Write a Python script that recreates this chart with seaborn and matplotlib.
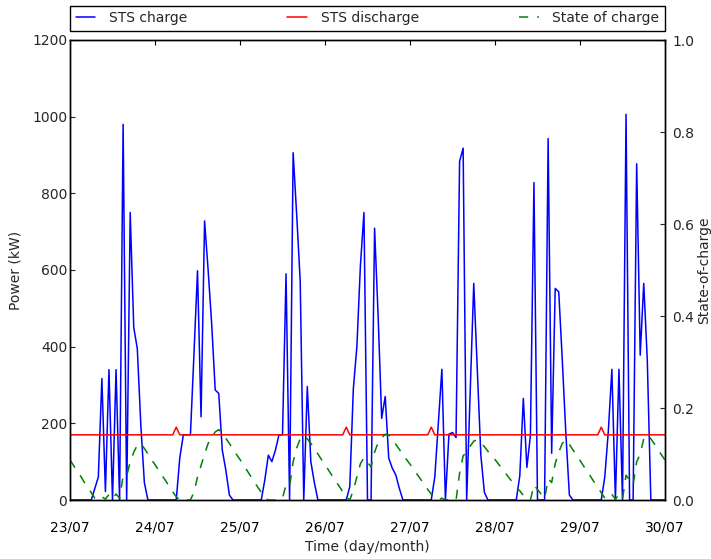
import pandas as pd
import matplotlib
matplotlib.use('Agg')
import matplotlib.pyplot as plt
import matplotlib.dates as mdates
import seaborn as sns

# hourly values, 23/07 00:00 .. 30/07 00:00
charge_kw = [
    0, 0, 0, 0, 0, 0, 0, 30, 60, 317, 22, 340, 0, 340, 0, 980, 0, 750, 450, 395, 195, 45, 0, 0,
    0, 0, 0, 0, 0, 0, 0, 110, 170, 170, 170, 380, 598, 217, 728, 600, 460, 287, 278, 130, 78, 13, 0, 0,
    0, 0, 0, 0, 0, 0, 0, 52, 117, 100, 130, 170, 170, 590, 0, 906, 745, 570, 0, 296, 100, 45, 0, 0,
    0, 0, 0, 0, 0, 0, 0, 35, 290, 400, 612, 750, 0, 0, 709, 480, 213, 270, 109, 83, 65, 30, 0, 0,
    0, 0, 0, 0, 0, 0, 0, 60, 200, 341, 0, 172, 176, 163, 883, 918, 0, 283, 565, 340, 117, 20, 0, 0,
    0, 0, 0, 0, 0, 0, 0, 63, 265, 85, 168, 828, 0, 0, 0, 943, 122, 552, 543, 365, 174, 13, 0, 0,
    0, 0, 0, 0, 0, 0, 0, 60, 180, 341, 0, 341, 0, 1006, 0, 0, 877, 378, 565, 365, 0, 0, 0, 0,
    0,
]

discharge_kw = [
    170, 170, 170, 170, 170, 170, 170, 170, 170, 170, 170, 170, 170, 170, 170, 170, 170, 170, 170, 170, 170, 170, 170, 170,
    170, 170, 170, 170, 170, 170, 190, 170, 170, 170, 170, 170, 170, 170, 170, 170, 170, 170, 170, 170, 170, 170, 170, 170,
    170, 170, 170, 170, 170, 170, 170, 170, 170, 170, 170, 170, 170, 170, 170, 170, 170, 170, 170, 170, 170, 170, 170, 170,
    170, 170, 170, 170, 170, 170, 190, 170, 170, 170, 170, 170, 170, 170, 170, 170, 170, 170, 170, 170, 170, 170, 170, 170,
    170, 170, 170, 170, 170, 170, 190, 170, 170, 170, 170, 170, 170, 170, 170, 170, 170, 170, 170, 170, 170, 170, 170, 170,
    170, 170, 170, 170, 170, 170, 170, 170, 170, 170, 170, 170, 170, 170, 170, 170, 170, 170, 170, 170, 170, 170, 170, 170,
    170, 170, 170, 170, 170, 170, 190, 170, 170, 170, 170, 170, 170, 170, 170, 170, 170, 170, 170, 170, 170, 170, 170, 170,
    170,
]

soc = [
    0.087, 0.075, 0.063, 0.052, 0.039, 0.028, 0.016, 0.004, 0.0, 0.007, 0.002, 0.012, 0.003, 0.013, 0.004, 0.052, 0.052, 0.083, 0.104, 0.119, 0.123, 0.112, 0.100, 0.088,
    0.077, 0.065, 0.053, 0.042, 0.030, 0.018, 0.007, 0.0, 0.0, 0.0, 0.0, 0.017, 0.050, 0.075, 0.100, 0.123, 0.136, 0.148, 0.153, 0.146, 0.134, 0.123, 0.111, 0.099,
    0.088, 0.076, 0.064, 0.052, 0.040, 0.028, 0.017, 0.005, 0.0, 0.0, 0.0, 0.0, 0.004, 0.033, 0.029, 0.083, 0.113, 0.133, 0.140, 0.133, 0.123, 0.112, 0.100, 0.088,
    0.077, 0.065, 0.053, 0.042, 0.030, 0.018, 0.007, 0.0, 0.021, 0.050, 0.079, 0.092, 0.082, 0.072, 0.104, 0.125, 0.135, 0.143, 0.142, 0.132, 0.121, 0.110, 0.099, 0.088,
    0.078, 0.067, 0.056, 0.045, 0.034, 0.023, 0.013, 0.003, 0.0, 0.004, 0.0, 0.0, 0.002, 0.0, 0.058, 0.096, 0.104, 0.117, 0.128, 0.131, 0.125, 0.116, 0.106, 0.096,
    0.088, 0.078, 0.068, 0.058, 0.048, 0.038, 0.028, 0.020, 0.010, 0.002, 0.0, 0.033, 0.023, 0.013, 0.003, 0.046, 0.038, 0.079, 0.104, 0.123, 0.131, 0.121, 0.109, 0.098,
    0.086, 0.074, 0.063, 0.051, 0.039, 0.028, 0.016, 0.004, 0.003, 0.012, 0.002, 0.012, 0.002, 0.054, 0.043, 0.033, 0.083, 0.100, 0.133, 0.142, 0.133, 0.122, 0.110, 0.098,
    0.087,
]

time = pd.date_range('2016-07-23 00:00', periods=len(charge_kw), freq='h')
df = pd.DataFrame({'time': time, 'charge': charge_kw,
                   'discharge': discharge_kw, 'soc': soc})

sns.set_style('white')
plt.rcParams['font.family'] = ['DejaVu Sans']
plt.rcParams['font.size'] = 10

fig = plt.figure(figsize=(7.11, 5.59), dpi=100)
ax = fig.add_axes([70 / 711, 1 - 500 / 559, 595 / 711, 460 / 559])
ax2 = ax.twinx()

sns.lineplot(data=df, x='time', y='charge', ax=ax, color='#0000ff', lw=1.1,
             label='STS charge', legend=False)
sns.lineplot(data=df, x='time', y='discharge', ax=ax, color='#ff0000', lw=1.1,
             label='STS discharge', legend=False)
sns.lineplot(data=df, x='time', y='soc', ax=ax2, color='#008000', lw=1.1,
             linestyle='--', label='State of charge', legend=False)
ax2.lines[0].set_dashes((6, 6))

ax.set_xlim(time[0], time[-1])
ax.set_ylim(0, 1200)
ax.set_yticks(range(0, 1201, 200))
ax2.set_ylim(0, 1.0)
ax2.set_yticks([0.0, 0.2, 0.4, 0.6, 0.8, 1.0])

ax.xaxis.set_major_locator(mdates.DayLocator())
ax.xaxis.set_major_formatter(mdates.DateFormatter('%d/%m'))

ax.set_xlabel('Time (day/month)', fontsize=10, labelpad=4)
ax.set_ylabel('Power (kW)', fontsize=10, labelpad=7)
ax2.set_ylabel('State-of-charge', fontsize=10, labelpad=2)

ax.tick_params(axis='x', direction='in', length=3.5, pad=15, top=True,
               labelsize=10, colors='black')
ax.tick_params(axis='y', direction='in', length=3.5, pad=2, labelsize=10)
ax2.tick_params(axis='y', direction='in', length=3.5, pad=5, labelsize=10)

for a in (ax, ax2):
    for sp in a.spines.values():
        sp.set_color('black')
        sp.set_linewidth(1.0)

h1, l1 = ax.get_legend_handles_labels()
h2, l2 = ax2.get_legend_handles_labels()
leg = ax.legend(h1 + h2, l1 + l2, bbox_to_anchor=(0., 1.02, 1., .102),
                loc='lower left', ncol=3, mode='expand', borderaxespad=0.,
                fancybox=False, framealpha=1, edgecolor='black',
                handlelength=1.4, handletextpad=1.0, fontsize=10)
leg.get_frame().set_linewidth(1.0)

fig.savefig('out.png', dpi=100)
